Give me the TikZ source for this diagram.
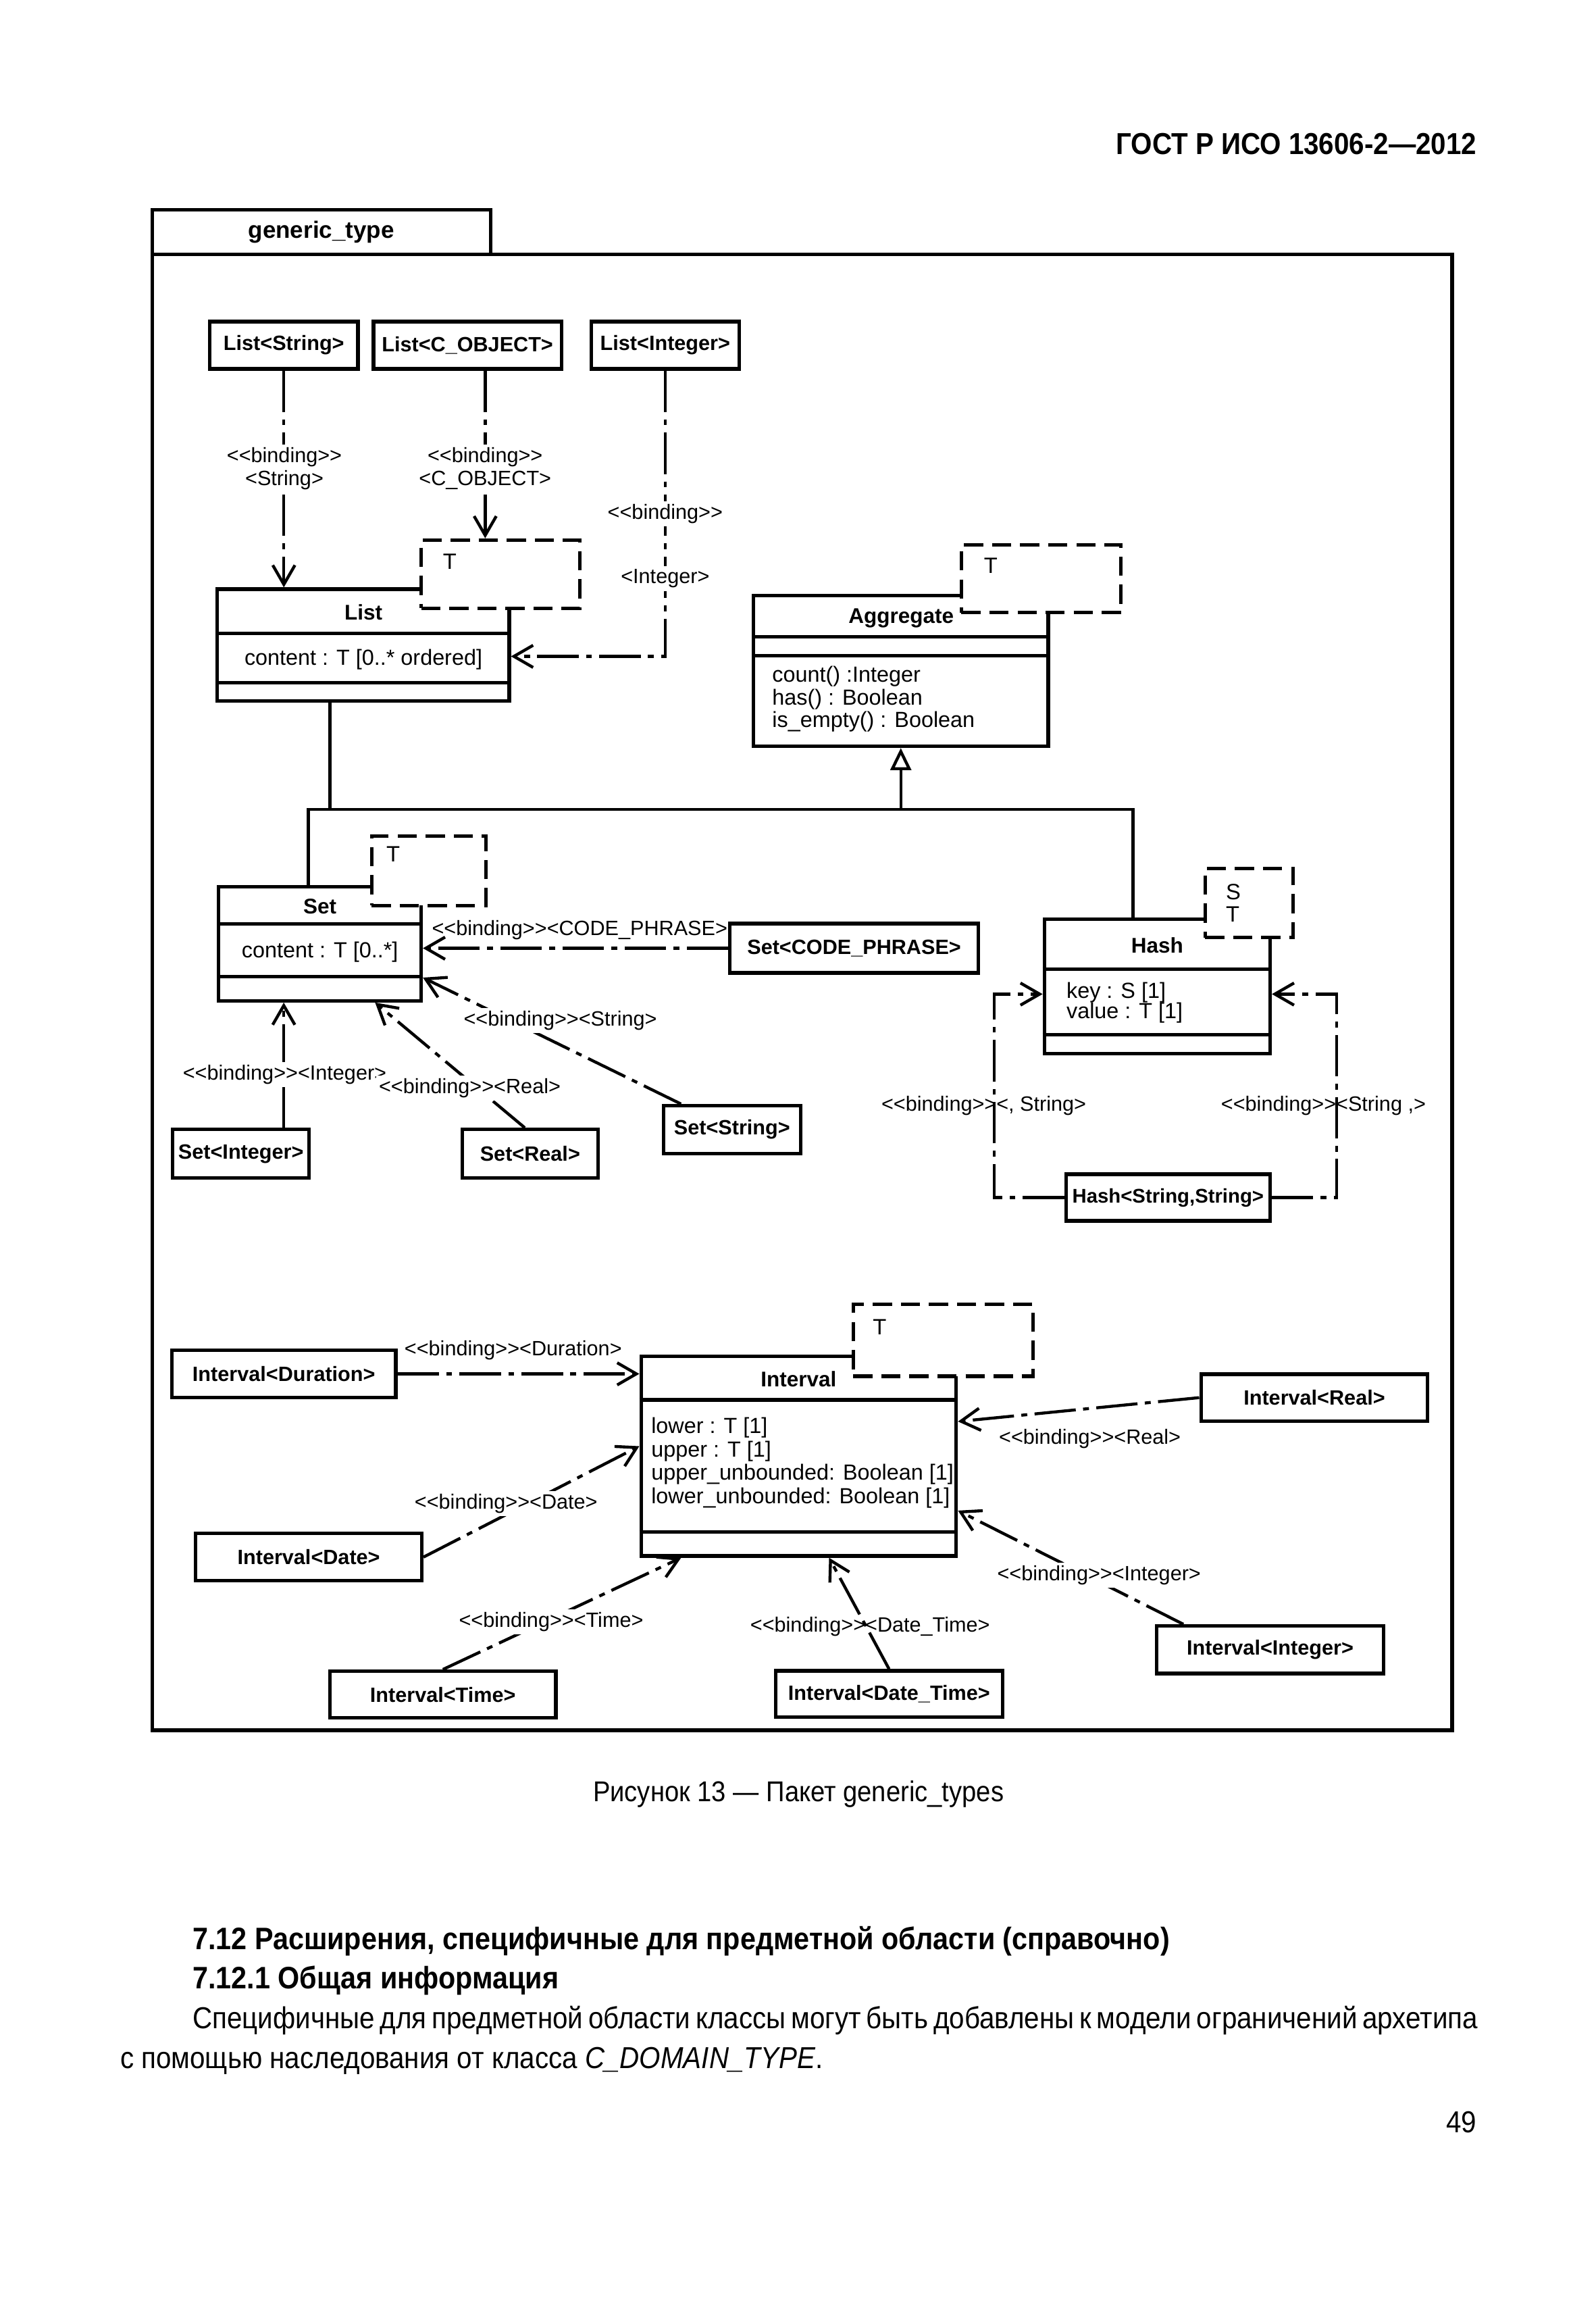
\documentclass[tikz,border=0pt]{standalone}
\usepackage{fontspec}
\setmainfont{Liberation Sans}[Ligatures=TeXOff]
\newfontfamily\pagefont{Liberation Sans}[FakeStretch=0.9,Ligatures=TeXOff]
\usetikzlibrary{arrows.meta,fit}

\begin{document}
\begin{tikzpicture}[x=0.5pt, y=-0.5pt,
  box/.style={draw, line width=1.2pt, inner sep=0pt},
  inst/.style={box, font=\fontsize{7}{8}\selectfont\bfseries},
  tpar/.style={draw, line width=1.2pt, dash pattern=on 6.5pt off 3pt, fill=white, inner sep=0pt},
  bind/.style={line width=1pt, dash pattern=on 14pt off 2.5pt on 2pt off 2.5pt, -{Straight Barb[length=6.5pt,width=7.5pt,line width=1pt]}},
  gen/.style={line width=1pt, -{Triangle[open,length=7.5pt,width=7pt,line width=1pt]}},
  lbl/.style={font=\fontsize{7}{7.75}\selectfont, fill=white, inner sep=1pt},
  lbln/.style={font=\fontsize{7}{8}\selectfont, inner sep=1pt},
  cname/.style={font=\fontsize{7.2}{8}\selectfont\bfseries, inner sep=0pt},
  attr/.style={font=\fontsize{7.4}{7.8}\selectfont, align=left, inner sep=0pt, anchor=west},
  tvar/.style={font=\fontsize{7.5}{7.45}\selectfont, align=left, inner sep=0pt, anchor=west},
  divider/.style={line width=1.2pt}]
\useasboundingbox (0,0) rectangle (1080,1566);

\node[anchor=east, inner sep=0pt, font=\pagefont\bfseries\fontsize{10.25}{12}\selectfont] (hdr) at (1000,97.4) {ГОСТ Р ИСО 13606-2—2012};

\node[box, minimum width=114.5pt, minimum height=15pt, font=\bfseries\fontsize{8}{9}\selectfont] (tab) at (217.5,157) {generic\_type};
\node[box, fit={(103,172) (983,1171)}] (pkg) {};

\node[inst, minimum width=50.15pt, minimum height=16pt] (lstr) at (192.15,233.6) {List<String>};
\node[inst, minimum width=63.65pt, minimum height=16pt] (lobj) at (316.45,233.6) {List<C\_OBJECT>};
\node[inst, minimum width=50pt, minimum height=16pt] (lint) at (450.3,233.6) {List<Integer>};

\node[box, fit={(147.1,398.7) (344.7,474.5)}] (list) {};
\draw[divider] ([yshift=-15.5pt]list.north west) -- ([yshift=-15.5pt]list.north east);
\draw[divider] ([yshift=-32.35pt]list.north west) -- ([yshift=-32.35pt]list.north east);
\node[cname] (listname) at (246,414.2) {List};
\node[attr, anchor=center] (listattr) at (246,446.5) {content : T [0..* ordered]};
\node[tpar, fit={(285.1,365.5) (392.5,411.6)}] (listT) {};
\node[tvar] (listTv) at (299.5,380) {T};

\draw[bind] (lstr) -- (lstr |- list.north);
\node[lbl, align=center] (lstrlbl) at (192.5,317) {<<binding>>\\<String>};
\draw[bind] ([xshift=6pt]lobj.south) -- ([xshift=6pt]lobj.south |- listT.north);
\node[lbl, align=center] (lobjlbl) at (328.4,317) {<<binding>>\\<C\_OBJECT>};
\draw[bind] (lint.south) |- ([yshift=-3.8pt]list.east);
\node[lbl] (lintlbl1) at (450.3,347.8) {<<binding>>};
\node[lbl] (lintlbl2) at (450.3,391.6) {<Integer>};

\node[box, fit={(510,403.1) (709.6,505)}] (aggr) {};
\draw[divider] ([yshift=-14.45pt]aggr.north west) -- ([yshift=-14.45pt]aggr.north east);
\draw[divider] ([yshift=-20.95pt]aggr.north west) -- ([yshift=-20.95pt]aggr.north east);
\node[cname] (aggrname) at (610,418.3) {Aggregate};
\node[attr, font=\fontsize{7.4}{7.6}\selectfont] (aggrops) at (522.4,473.1) {count() :Integer\\has() : Boolean\\is\_empty() : Boolean};
\node[tpar, fit={(650.8,368.9) (758.9,414.5)}] (aggrT) {};
\node[tvar] (aggrTv) at (665.7,382.6) {T};

\node[box, fit={(148,600) (285.1,677.3)}] (set) {};
\draw[divider] ([yshift=-13.25pt]set.north west) -- ([yshift=-13.25pt]set.north east);
\draw[divider] ([yshift=-31.1pt]set.north west) -- ([yshift=-31.1pt]set.north east);
\node[cname] (setname) at (216.6,613.3) {Set};
\node[attr, anchor=center] (setattr) at (216.6,644.4) {content : T [0..*]};
\node[tpar, fit={(251.6,565.7) (328.8,612.8)}] (setT) {};
\node[tvar] (setTv) at (261.2,578) {T};

\node[box, fit={(707,622) (859.8,712.9)}] (hash) {};
\draw[divider] ([yshift=-17.6pt]hash.north west) -- ([yshift=-17.6pt]hash.north east);
\draw[divider] ([yshift=-39.7pt]hash.north west) -- ([yshift=-39.7pt]hash.north east);
\node[cname] (hashname) at (783.4,639.6) {Hash};
\node[attr, font=\fontsize{7.4}{7}\selectfont] (hashattr) at (721.6,678.6) {key : S [1]\\value : T [1]};
\node[tpar, fit={(815.8,587.6) (875.5,634.4)}] (hashT) {};
\node[tvar] (hashTv) at (829.5,611.2) {S\\T};

\coordinate (junc) at (609.8,547.8);
\draw[gen] (junc) -- (aggr.south);
\draw[line width=1pt] ([xshift=-11.3pt]list.south) -- ([xshift=-11.3pt]list.south |- junc);
\draw[line width=1pt] ([xshift=-3.9pt]set.north) |- (junc) -| ([xshift=-8.25pt]hash.north);

\node[inst, minimum width=84.2pt, minimum height=16.7pt] (scp) at (578.2,641.7) {Set<CODE\_PHRASE>};
\draw[bind] (scp.west) -- (set.east |- scp.west);
\node[lbln] (scplbl) at (392.4,629.3) {<<binding>><CODE\_PHRASE>};

\node[inst, minimum width=46.35pt, minimum height=16.2pt] (sstr) at (495.55,764.5) {Set<String>};
\draw[bind] ([xshift=6.5pt]sstr.north west) -- ([yshift=8.45pt]set.south east);
\node[lbl] (sstrlbl) at (379.3,690.6) {<<binding>><String>};

\node[inst, minimum width=46.2pt, minimum height=16.4pt] (sint) at (163.1,780.8) {Set<Integer>};
\draw[bind] ([xshift=14.5pt]sint.north) -- ([xshift=14.5pt]sint.north |- set.south);
\node[lbl] (sintlbl) at (192.7,727.3) {<<binding>><Integer>};

\node[inst, minimum width=46.05pt, minimum height=16.4pt] (sreal) at (358.85,780.8) {Set<Real>};
\draw[bind] ([xshift=-1.8pt]sreal.north) -- ([xshift=18.7pt]set.south);
\node[lbl] (sreallbl) at (318,736.4) {<<binding>><Real>};

\node[inst, minimum width=69.1pt, minimum height=15.75pt, font=\fontsize{6.7}{8}\selectfont\bfseries] (hss) at (790.7,810.45) {Hash<String,String>};
\draw[bind] (hss.west) -| ([xshift=-16.4pt,yshift=-2.65pt]hash.west) -- ([yshift=-2.65pt]hash.west);
\draw[bind] (hss.east) -| ([xshift=21.95pt,yshift=-2.65pt]hash.east) -- ([yshift=-2.65pt]hash.east);
\node[lbln] (hsslbl1) at (666,748.1) {<<binding>><, String>};
\node[lbln] (hsslbl2) at (895.9,748.1) {<<binding>><String ,>};

\node[box, fit={(434,918) (647.3,1053)}] (intv) {};
\draw[divider] ([yshift=-15.3pt]intv.north west) -- ([yshift=-15.3pt]intv.north east);
\draw[divider] ([yshift=-60pt]intv.north west) -- ([yshift=-60pt]intv.north east);
\node[cname] (intvname) at (540.6,933.3) {Interval};
\node[attr, font=\fontsize{7.4}{7.95}\selectfont] (intvattr) at (440.5,989.9) {lower : T [1]\\upper : T [1]\\upper\_unbounded: Boolean [1]\\lower\_unbounded: Boolean [1]};
\node[tpar, fit={(577.6,882.8) (699.4,931.4)}] (intvT) {};
\node[tvar] (intvTv) at (590.5,898) {T};

\node[inst, minimum width=75.75pt, minimum height=15.85pt] (idur) at (192.15,929.75) {Interval<Duration>};
\draw[bind] (idur.east) -- (intv.west |- idur.east);
\node[lbln] (idurlbl) at (347.4,913.9) {<<binding>><Duration>};

\node[inst, minimum width=76.5pt, minimum height=16.05pt] (idate) at (209,1053.75) {Interval<Date>};
\draw[bind] (idate.east) -- ([yshift=3.4pt]intv.west);
\node[lbl] (idatelbl) at (342.6,1017.6) {<<binding>><Date>};

\node[inst, minimum width=76.5pt, minimum height=15.8pt] (itime) at (299.8,1146.8) {Interval<Time>};
\draw[bind] (itime.north) -- ([xshift=14.15pt]intv.south west);
\node[lbl] (itimelbl) at (373.1,1097.4) {<<binding>><Time>};

\node[inst, minimum width=76.75pt, minimum height=15.75pt] (idt) at (601.85,1146.45) {Interval<Date\_Time>};
\draw[bind] (idt.north) -- ([xshift=10.3pt]intv.south);
\node[lbln] (idtlbl) at (589,1101) {<<binding>><Date\_Time>};

\node[inst, minimum width=76.75pt, minimum height=15.85pt] (ireal) at (889.75,945.85) {Interval<Real>};
\draw[bind] (ireal.west) -- ([yshift=11.75pt]intv.east);
\node[lbln] (ireallbl) at (737.8,973.7) {<<binding>><Real>};

\node[inst, minimum width=76.9pt, minimum height=16.05pt] (iint) at (859.8,1116.45) {Interval<Integer>};
\draw[bind] ([xshift=9.7pt]iint.north west) -- ([yshift=-18.4pt]intv.east);
\node[lbl] (iintlbl) at (744,1066) {<<binding>><Integer>};

\node[anchor=base, inner sep=0pt, font=\pagefont\fontsize{9.7}{11}\selectfont] (cap) at (540.5,1219) {Рисунок 13 — Пакет generic\_types};
\node[anchor=base west, inner sep=0pt, font=\pagefont\bfseries\fontsize{10.5}{12}\selectfont] (h1) at (130,1319.5) {7.12 Расширения, специфичные для предметной области (справочно)};
\node[anchor=base west, inner sep=0pt, font=\pagefont\bfseries\fontsize{10.5}{12}\selectfont] (h2) at (130,1346) {7.12.1 Общая информация};
\node[anchor=base west, inner sep=0pt, font=\pagefont\fontsize{10.25}{12}\selectfont] (p1) at (130,1373) {\hbox to 435pt{Специфичные для предметной области классы могут быть добавлены к модели ограничений архетипа}};
\node[anchor=base west, inner sep=0pt, font=\pagefont\fontsize{10.25}{12}\selectfont] (p2) at (81,1400) {с помощью наследования от класса \textit{C\_DOMAIN\_TYPE}.};
\node[anchor=east, inner sep=0pt, font=\pagefont\fontsize{10.25}{12}\selectfont] (pnum) at (1000,1436) {49};
\end{tikzpicture}
\end{document}
